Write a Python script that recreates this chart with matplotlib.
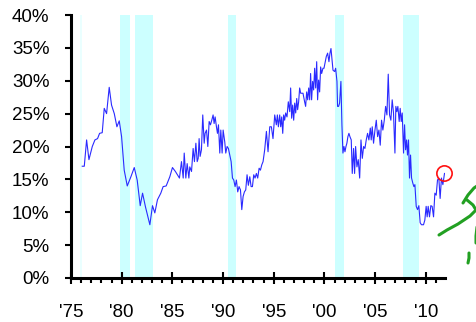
import matplotlib
matplotlib.use('Agg')
import matplotlib.pyplot as plt
from matplotlib.lines import Line2D

plt.rcParams['font.family'] = ['Liberation Sans', 'DejaVu Sans']

# values (year, percent)
years = [1976.11, 1976.31, 1976.54, 1976.77, 1977.10, 1977.36, 1977.62, 1977.82, 1978.08, 1978.28,
         1978.51, 1978.77, 1979.00, 1979.27, 1979.53, 1979.76, 1979.99, 1980.25, 1980.55, 1980.91,
         1981.24, 1981.53, 1981.83, 1982.06, 1982.35, 1982.78, 1983.04, 1983.27, 1983.53, 1983.86,
         1984.09, 1984.39, 1984.75, 1985.01, 1985.30, 1985.70,
         1985.90, 1986.07, 1986.17, 1986.33, 1986.46, 1986.63, 1986.72, 1986.89, 1987.05, 1987.18,
         1987.32, 1987.45, 1987.55, 1987.64, 1987.74, 1987.87, 1988.00, 1988.14, 1988.23, 1988.37,
         1988.50, 1988.63, 1988.76, 1988.89, 1989.02, 1989.12, 1989.22, 1989.35, 1989.45, 1989.55,
         1989.68, 1989.78, 1989.91, 1990.01, 1990.17, 1990.27, 1990.40, 1990.53, 1990.67, 1990.80,
         1990.93, 1991.06, 1991.19, 1991.32, 1991.45, 1991.58, 1991.72, 1991.85, 1991.98, 1992.11,
         1992.24, 1992.37, 1992.50, 1992.64, 1992.77, 1992.90, 1993.03, 1993.16, 1993.29, 1993.42,
         1993.56, 1993.69, 1993.82, 1993.95, 1994.11, 1994.28, 1994.44, 1994.61,
         1994.77, 1994.93, 1995.10, 1995.26, 1995.36, 1995.46, 1995.59, 1995.69, 1995.79, 1995.89,
         1995.98, 1996.08, 1996.18, 1996.31, 1996.44, 1996.58, 1996.67, 1996.77, 1996.87, 1996.97,
         1997.07, 1997.17, 1997.27, 1997.36, 1997.46, 1997.56, 1997.66, 1997.89, 1998.05, 1998.15,
         1998.25, 1998.35, 1998.45, 1998.55, 1998.64, 1998.74, 1998.84, 1998.94, 1999.04, 1999.14,
         1999.24, 1999.33, 1999.43, 1999.53, 1999.63, 1999.73, 1999.86, 1999.96, 2000.06, 2000.19,
         2000.32, 2000.45, 2000.55, 2000.65, 2000.75, 2000.85, 2001.01, 2001.11, 2001.24, 2001.30,
         2001.40, 2001.50, 2001.63, 2001.73, 2001.83, 2001.93, 2002.03, 2002.13, 2002.22, 2002.32,
         2002.42,
         2002.52, 2002.65, 2002.75, 2002.88, 2002.98, 2003.08, 2003.21, 2003.34, 2003.48, 2003.61,
         2003.74, 2003.87, 2004.00, 2004.13, 2004.26, 2004.39, 2004.53, 2004.62, 2004.72, 2004.85,
         2004.99, 2005.12, 2005.25, 2005.38, 2005.51, 2005.64, 2005.77, 2005.91, 2006.04, 2006.17,
         2006.30, 2006.43, 2006.56, 2006.69, 2006.82, 2006.96, 2007.05, 2007.15, 2007.25, 2007.38,
         2007.48, 2007.58, 2007.68, 2007.81, 2007.91, 2008.01, 2008.11, 2008.20, 2008.30, 2008.40,
         2008.50, 2008.60, 2008.73, 2008.83, 2008.93, 2009.06, 2009.19, 2009.32, 2009.45, 2009.58,
         2009.78, 2009.91, 2010.04, 2010.14, 2010.24, 2010.37, 2010.50, 2010.63, 2010.77, 2010.90,
         2011.03, 2011.16, 2011.29, 2011.42, 2011.55, 2011.69, 2011.85]
pct = [17.0, 17.0, 21.0, 18.0, 20.0, 21.0, 21.2, 22.0, 22.1, 25.8,
       25.0, 29.0, 26.3, 25.0, 23.0, 23.9, 21.5, 16.4, 14.0, 15.4,
       16.8, 14.9, 11.0, 12.9, 10.8, 8.1, 11.0, 9.9, 11.9, 12.9,
       13.9, 14.0, 15.4, 16.8, 16.2, 15.2,
       17.7, 15.2, 19.0, 15.2, 17.4, 15.2, 16.9, 16.2, 19.7, 17.7,
       20.5, 17.7, 18.2, 21.2, 18.5, 19.5, 24.8, 20.5, 22.0, 22.5,
       20.0, 23.8, 23.3, 24.0, 24.8, 23.5, 24.5, 23.0, 22.0, 23.3,
       19.0, 22.5, 19.0, 22.5, 20.7, 19.0, 20.0, 19.7, 18.7, 17.7,
       15.2, 14.9, 13.9, 14.9, 13.1, 13.9, 13.4, 10.4, 12.4, 13.1,
       13.4, 15.7, 14.1, 15.4, 13.9, 13.9, 15.7, 15.2, 15.9, 15.2,
       16.7, 16.4, 17.2, 17.7, 19.5, 22.3, 19.2, 23.0,
       23.0, 21.2, 24.8, 23.3, 24.8, 23.0, 24.8, 23.0, 24.5, 22.0,
       24.8, 24.0, 25.1, 24.5, 26.8, 25.3, 28.9, 24.3, 26.3, 24.0,
       26.6, 25.1, 27.3, 25.6, 26.8, 28.9, 28.1, 28.1, 26.8, 26.1,
       28.3, 27.1, 28.9, 27.1, 31.1, 27.1, 29.9, 28.6, 31.9, 28.9,
       32.9, 27.1, 30.1, 28.3, 32.1, 31.1, 31.9, 31.9, 32.7, 33.7,
       34.2, 32.9, 34.2, 34.9, 33.2, 31.6, 31.4, 31.9, 29.9, 26.1,
       26.1, 26.6, 29.9, 23.3, 19.0, 20.0, 19.2, 20.0, 20.5, 21.5,
       22.0,
       21.5, 21.0, 15.9, 19.7, 15.9, 20.0, 16.9, 18.0, 15.2, 21.0,
       18.2, 20.0, 19.7, 21.0, 22.0, 21.0, 22.8, 21.0, 23.0, 20.5,
       22.5, 24.0, 21.5, 22.5, 20.2, 24.0, 22.5, 24.0, 26.1, 24.8,
       31.0, 24.8, 24.0, 27.1, 25.1, 19.0, 26.1, 25.3, 26.1, 23.8,
       25.8, 23.8, 25.1, 19.0, 23.3, 19.5, 21.0, 18.7, 21.0, 15.2,
       18.7, 15.2, 14.4, 13.9, 14.2, 10.9, 10.4, 11.0, 8.4, 8.1,
       8.1, 8.8, 10.9, 9.3, 10.9, 9.3, 11.0, 10.9, 9.3, 12.9,
       12.6, 14.9, 15.2, 12.1, 15.2, 14.2, 15.9]

# recession bands
rec_start = [1979.85, 1981.35, 1990.45, 2001.05, 2007.8]
rec_end = [1980.8, 1983.05, 1991.3, 2001.9, 2009.3]

xtick_years = [1975, 1980, 1985, 1990, 1995, 2000, 2005, 2010]
xtick_labels = ["'75", "'80", "'85", "'90", "'95", "'00", "'05", "'10"]
ytick_vals = [0, 5, 10, 15, 20, 25, 30, 35, 40]
ytick_labels = ['0%', '5%', '10%', '15%', '20%', '25%', '30%', '35%', '40%']

# green hand drawn marks (figure pixels)
scribbles = [
    [(463, 203), (468, 195), (474, 188), (477, 186)],
    [(467, 200), (473, 205), (476, 210), (470, 216), (458, 224), (447, 230), (439, 235)],
    [(477, 227), (476, 236), (476, 243)],
    [(469, 253), (469, 258), (468, 263)],
]

fig = plt.figure(figsize=(4.77, 3.22), dpi=100)
ax = fig.add_axes([71 / 477, 1 - 278 / 322, (445 - 71) / 477, (278 - 15) / 322])

ax.axvspan(1975.9, 1976.1, color='#eaffff', lw=0)
for s, e in zip(rec_start, rec_end):
    ax.axvspan(s, e, color='#ccffff', lw=0)

ax.plot(years, pct, color='#2a2aff', lw=0.8)
ax.plot([years[-1]], [pct[-1]], 'o', ms=11, mfc='none', mec='#ff1010', mew=1.2, clip_on=False)

ax.set_xlim(1975, 2011.9)
ax.set_ylim(0, 40)
ax.set_xticks(xtick_years)
ax.set_xticklabels(xtick_labels)
ax.set_xticks(range(1975, 2012), minor=True)
ax.set_yticks(ytick_vals)
ax.set_yticklabels(ytick_labels)

for side in ['top', 'right']:
    ax.spines[side].set_visible(False)
for side in ['left', 'bottom']:
    ax.spines[side].set_linewidth(2.2)

ax.tick_params(axis='x', which='major', direction='inout', length=9, width=1.5, pad=14, labelsize=13.5)
ax.tick_params(axis='x', which='minor', direction='out', length=3.8, width=1.5)
ax.tick_params(axis='y', which='major', direction='out', length=4.5, width=1.5, pad=11, labelsize=13.5)

for pts in scribbles:
    xs = [p[0] / 477 for p in pts]
    ys = [1 - p[1] / 322 for p in pts]
    fig.add_artist(Line2D(xs, ys, color='#22a022', lw=2.2, solid_capstyle='round',
                          solid_joinstyle='round', transform=fig.transFigure))

fig.savefig('out.png', dpi=100)
